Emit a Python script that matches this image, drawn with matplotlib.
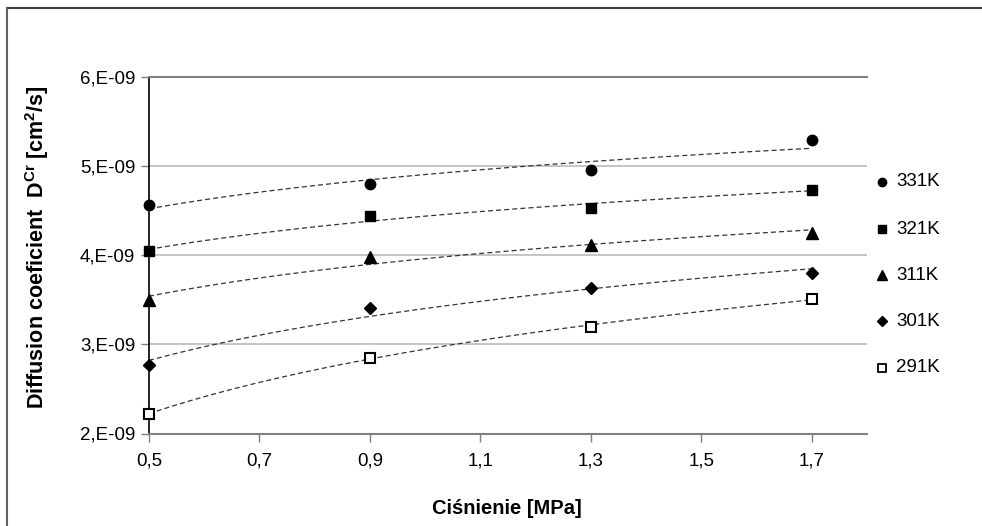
import numpy as np
import matplotlib
matplotlib.use("Agg")
import matplotlib.pyplot as plt
from matplotlib.lines import Line2D

plt.rcParams['font.family'] = ['Liberation Sans', 'DejaVu Sans']
plt.rcParams['mathtext.fontset'] = 'custom'
plt.rcParams['mathtext.rm'] = 'Liberation Sans:bold'
plt.rcParams['mathtext.bf'] = 'Liberation Sans:bold'
plt.rcParams['mathtext.it'] = 'Liberation Sans:bold'

pressure = [0.5, 0.9, 1.3, 1.7]
labels = ['331K', '321K', '311K', '301K', '291K']
d331 = [4.57e-9, 4.80e-9, 4.96e-9, 5.30e-9]
d321 = [4.05e-9, 4.44e-9, 4.53e-9, 4.74e-9]
d311 = [3.50e-9, 3.98e-9, 4.12e-9, 4.25e-9]
d301 = [2.77e-9, 3.41e-9, 3.63e-9, 3.80e-9]
d291 = [2.22e-9, 2.85e-9, 3.20e-9, 3.51e-9]
series = [d331, d321, d311, d301, d291]
xticks = [0.5, 0.7, 0.9, 1.1, 1.3, 1.5, 1.7]
yticks = [2e-9, 3e-9, 4e-9, 5e-9, 6e-9]
ytick_labels = ['2,E-09', '3,E-09', '4,E-09', '5,E-09', '6,E-09']

markers = [dict(marker='o', ms=7.5, mfc='black', mec='black'),
           dict(marker='s', ms=7.0, mfc='black', mec='black'),
           dict(marker='^', ms=8.5, mfc='black', mec='black'),
           dict(marker='D', ms=6.0, mfc='black', mec='black'),
           dict(marker='s', ms=6.5, mfc='white', mec='black', mew=1.5)]

W, H = 982, 526
fig = plt.figure(figsize=(W / 100, H / 100), dpi=100)
ax = fig.add_axes([149 / W, 1 - 433.5 / H, (867 - 149) / W, (433.5 - 77.3) / H])

x = np.array(pressure)
xf = np.linspace(0.5, 1.7, 100)
for vals, mk in zip(series, markers):
    y = np.array(vals)
    a, b = np.polyfit(np.log(x), y, 1)
    ax.plot(xf, a * np.log(xf) + b, color='#333333', lw=0.9, dashes=(4, 2.5), zorder=2)
    ax.plot(x, y, ls='none', zorder=3, clip_on=False, **mk)

ax.set_xlim(0.5, 1.8)
ax.set_ylim(2e-9, 6e-9)
ax.set_xticks(xticks)
ax.set_xticklabels([f"{v:.1f}".replace('.', ',') for v in xticks])
ax.set_yticks(yticks)
ax.set_yticklabels(ytick_labels)
ax.tick_params(axis='both', labelsize=13.5, colors='black', direction='out', length=6, width=1)
ax.tick_params(axis='x', color='#808080', pad=8)
ax.tick_params(axis='y', color='#808080', pad=4)
ax.grid(axis='y', color='#c0c0c0', lw=1.3)
ax.set_axisbelow(True)
ax.spines['right'].set_visible(False)
ax.spines['left'].set_color('black')
ax.spines['bottom'].set_color('#808080')
ax.spines['top'].set_color('#808080')
ax.spines['left'].set_linewidth(1.2)
ax.spines['bottom'].set_linewidth(1.5)
ax.spines['top'].set_linewidth(1.5)

fig.text(507 / W, 1 - 508 / H, 'Ciśnienie [MPa]', ha='center', va='center',
         fontsize=14.5, fontweight='bold')
fig.text(37 / W, 1 - 247 / H, r'Diffusion coeficient  D$^{\mathbf{Cr}}$ [cm$^{\mathbf{2}}$/s]',
         ha='center', va='center', rotation=90, fontsize=15.5, fontweight='bold')

# legend
leg_y = [182, 229, 275, 321, 368]
leg_mk = [dict(marker='o', ms=6, mfc='black', mec='black'),
          dict(marker='s', ms=5.5, mfc='black', mec='black'),
          dict(marker='^', ms=7, mfc='black', mec='black'),
          dict(marker='D', ms=5, mfc='black', mec='black'),
          dict(marker='s', ms=5.5, mfc='white', mec='black', mew=1.3)]
for lab, yy, mk in zip(labels, leg_y, leg_mk):
    fig.add_artist(Line2D([882 / W], [1 - yy / H], ls='none', transform=fig.transFigure, **mk))
    fig.text(896 / W, 1 - yy / H, lab, ha='left', va='center', fontsize=13.5)

# chart border (top and left visible)
fig.add_artist(Line2D([7 / W, 1.0], [1 - 8 / H, 1 - 8 / H], color='#404040', lw=1.5,
                      transform=fig.transFigure))
fig.add_artist(Line2D([7 / W, 7 / W], [1 - 8 / H, 0.0], color='#606060', lw=1.5,
                      transform=fig.transFigure))

fig.savefig('out.png', dpi=100)
